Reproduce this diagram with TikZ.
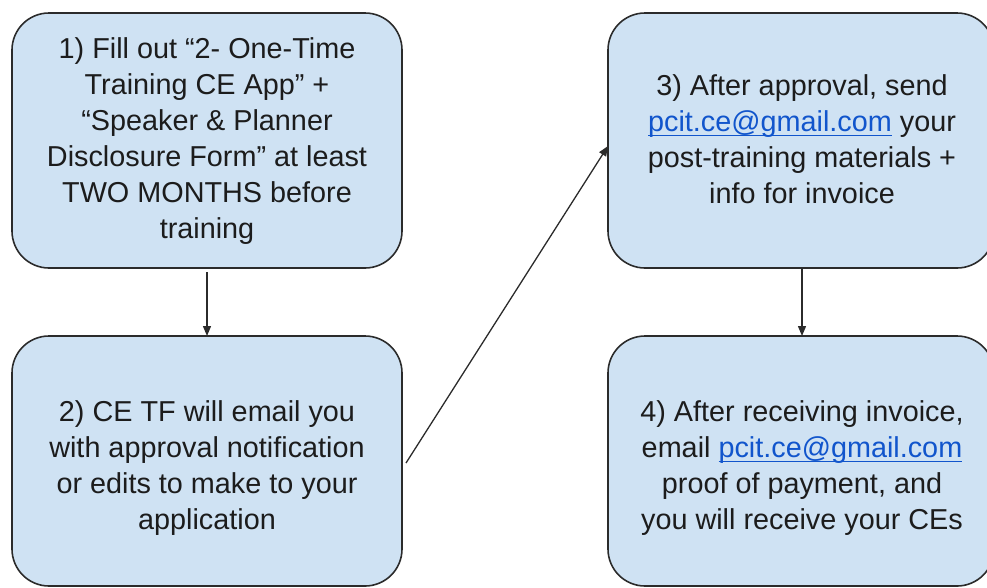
\documentclass[tikz,border=0pt]{standalone}
\usepackage{fontspec}
\setmainfont{Liberation Sans}
\usetikzlibrary{arrows.meta,calc}

\definecolor{boxfill}{HTML}{CFE2F3}
\definecolor{boxline}{HTML}{2B2B2B}
\definecolor{linkblue}{HTML}{1155CC}
\definecolor{bodytext}{HTML}{1C1C1C}

% underlined blue e-mail address
\newsavebox\linkbox
\newcommand{\maillink}[1]{\sbox\linkbox{\color{linkblue}#1}%
  {\color{linkblue}\rlap{\rule[-5pt]{\wd\linkbox}{1.4pt}}\usebox\linkbox}}

\tikzset{
  stepbox/.style={draw=boxline, fill=boxfill, line width=1.6pt,
    rounded corners=37pt, inner sep=0pt},
  steptext/.style={align=center, text=bodytext,
    font=\fontsize{28.8}{36}\selectfont},
  flow/.style={draw=boxline, line width=1.3pt,
    -{Triangle[length=10pt,width=8pt]}}
}

\begin{document}
\begin{tikzpicture}[x=1pt,y=1pt]
\useasboundingbox (0,0) rectangle (987,-587);
\begin{scope}
\clip (0,0) rectangle (987,-587);

% box outlines
\draw[stepbox] (12,-13) rectangle (402,-268);
\draw[stepbox] (12,-336) rectangle (402,-586);
\draw[stepbox] (608,-13) rectangle (994,-268);
\draw[stepbox] (608,-336) rectangle (994,-586);

% step texts
\node[steptext] (s1) at (207,-141.5) {1) Fill out “2- One-Time\\Training CE App” +\\“Speaker \& Planner\\Disclosure Form” at least\\TWO MONTHS before\\training};
\node[steptext] (s2) at (207,-468) {2) CE TF will email you\\with approval notification\\or edits to make to your\\application};
\node[steptext] (s3) at (802,-139) {3) After approval, send\\\maillink{pcit.ce@gmail.com} your\\post-training materials +\\info for invoice};
\node[steptext] (s4) at (802,-468) {4) After receiving invoice,\\email \maillink{pcit.ce@gmail.com}\\proof of payment, and\\you will receive your CEs};

% anchor points on the box borders
\coordinate (b1s) at (207,-272);
\coordinate (b2n) at (207,-336);
\coordinate (b2e) at (406,-463);
\coordinate (b3w) at (608,-146);
\coordinate (b3s) at (802,-269);
\coordinate (b4n) at (802,-336);

% connectors
\draw[flow] (b1s) -- (b2n);
\draw[flow] (b2e) -- (b3w);
\draw[flow] (b3s) -- (b4n);
\end{scope}
\end{tikzpicture}
\end{document}
